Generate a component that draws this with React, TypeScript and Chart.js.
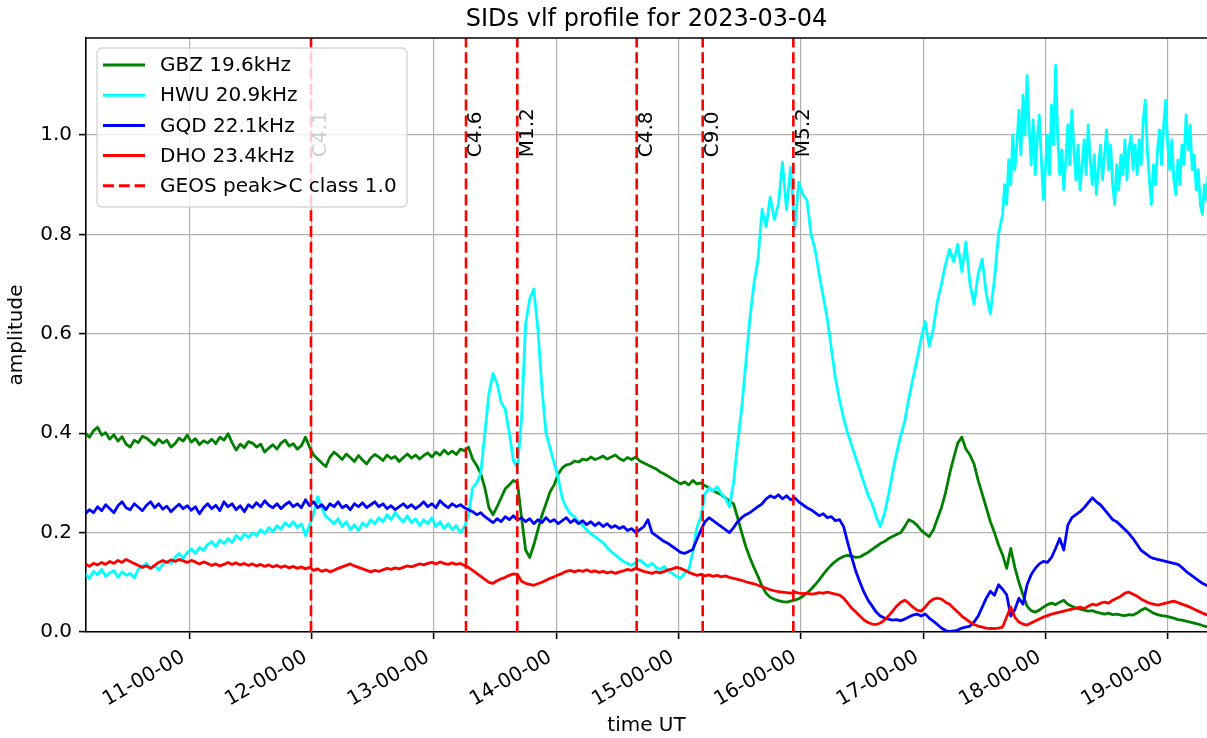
import React, { useEffect, useRef } from 'react';
import { Chart, registerables } from 'chart.js';

Chart.register(...registerables);

// ---- data ----
const START_HOUR = 10.15; // first sample, hours UT
const STEP_HOURS = 1 / 30; // 2-minute samples

const GBZ = [
  0.400, 0.392, 0.405, 0.412, 0.396, 0.401, 0.388, 0.397, 0.384, 0.393,
  0.378, 0.372, 0.386, 0.381, 0.394, 0.390, 0.383, 0.376, 0.388, 0.380,
  0.386, 0.372, 0.379, 0.390, 0.384, 0.396, 0.382, 0.389, 0.377, 0.385,
  0.380, 0.388, 0.379, 0.392, 0.386, 0.399, 0.381, 0.366, 0.378, 0.371,
  0.383, 0.380, 0.372, 0.378, 0.362, 0.370, 0.377, 0.368, 0.380, 0.386,
  0.374, 0.379, 0.368, 0.375, 0.392, 0.372, 0.356, 0.348, 0.340, 0.333,
  0.352, 0.362, 0.355, 0.347, 0.358, 0.351, 0.343, 0.355, 0.346, 0.338,
  0.350, 0.357, 0.352, 0.345, 0.356, 0.349, 0.353, 0.343, 0.351, 0.358,
  0.350, 0.356, 0.348, 0.355, 0.360, 0.352, 0.362, 0.356, 0.366, 0.358,
  0.364, 0.357, 0.368, 0.365, 0.372, 0.348, 0.335, 0.318, 0.290, 0.250,
  0.236, 0.252, 0.270, 0.288, 0.296, 0.305, 0.300, 0.230, 0.165, 0.150,
  0.175, 0.205, 0.235, 0.258, 0.282, 0.296, 0.318, 0.330, 0.336, 0.338,
  0.344, 0.342, 0.348, 0.346, 0.352, 0.347, 0.350, 0.354, 0.348, 0.352,
  0.356, 0.349, 0.345, 0.351, 0.347, 0.352, 0.344, 0.340, 0.336, 0.332,
  0.328, 0.322, 0.318, 0.313, 0.308, 0.303, 0.298, 0.302, 0.296, 0.305,
  0.298, 0.300, 0.294, 0.290, 0.284, 0.280, 0.276, 0.270, 0.264, 0.258,
  0.230, 0.200, 0.172, 0.150, 0.130, 0.112, 0.092, 0.078, 0.070, 0.066,
  0.063, 0.061, 0.060, 0.062, 0.064, 0.067, 0.072, 0.078, 0.086, 0.095,
  0.105, 0.116, 0.126, 0.135, 0.142, 0.148, 0.152, 0.154, 0.152, 0.150,
  0.151, 0.156, 0.160, 0.166, 0.172, 0.178, 0.182, 0.188, 0.192, 0.196,
  0.200, 0.212, 0.226, 0.222, 0.215, 0.205, 0.198, 0.192, 0.205, 0.228,
  0.250, 0.280, 0.318, 0.350, 0.380, 0.392, 0.368, 0.356, 0.338, 0.305,
  0.278, 0.250, 0.222, 0.200, 0.175, 0.155, 0.128, 0.168, 0.130, 0.100,
  0.075, 0.052, 0.043, 0.040, 0.044, 0.050, 0.055, 0.058, 0.055, 0.060,
  0.064, 0.056, 0.052, 0.048, 0.046, 0.044, 0.042, 0.043, 0.040, 0.038,
  0.036, 0.038, 0.035, 0.036, 0.034, 0.033, 0.035, 0.034, 0.038, 0.044,
  0.048, 0.043, 0.038, 0.035, 0.033, 0.032, 0.030, 0.028, 0.025, 0.024,
  0.022, 0.020, 0.018, 0.016, 0.013, 0.011, 0.010,
];

// HWU: 2-minute samples up to 17:37, then 1-minute samples from 17:39
const HWU = [
  0.118, 0.108, 0.122, 0.115, 0.126, 0.112, 0.119, 0.124, 0.110, 0.121,
  0.114, 0.118, 0.109, 0.126, 0.132, 0.138, 0.128, 0.134, 0.125, 0.136,
  0.142, 0.138, 0.150, 0.158, 0.148, 0.160, 0.167, 0.158, 0.170, 0.164,
  0.176, 0.182, 0.172, 0.185, 0.178, 0.188, 0.180, 0.194, 0.186, 0.197,
  0.190, 0.200, 0.194, 0.206, 0.198, 0.210, 0.202, 0.214, 0.207, 0.220,
  0.212, 0.222, 0.210, 0.218, 0.194, 0.215, 0.238, 0.272, 0.250, 0.232,
  0.226, 0.218, 0.228, 0.212, 0.222, 0.206, 0.216, 0.204, 0.220, 0.212,
  0.226, 0.218, 0.230, 0.222, 0.236, 0.226, 0.240, 0.230, 0.222, 0.234,
  0.220, 0.228, 0.214, 0.226, 0.218, 0.230, 0.212, 0.222, 0.208, 0.218,
  0.206, 0.214, 0.200, 0.212, 0.236, 0.290, 0.300, 0.320, 0.400, 0.480,
  0.520, 0.500, 0.462, 0.448, 0.400, 0.345, 0.330, 0.430, 0.620, 0.670,
  0.690, 0.610, 0.490, 0.400, 0.370, 0.340, 0.310, 0.268, 0.250, 0.238,
  0.232, 0.222, 0.215, 0.205, 0.198, 0.192, 0.186, 0.180, 0.170, 0.162,
  0.155, 0.148, 0.142, 0.138, 0.134, 0.140, 0.145, 0.138, 0.132, 0.138,
  0.130, 0.126, 0.132, 0.122, 0.118, 0.112, 0.108, 0.118, 0.125, 0.160,
  0.210, 0.232, 0.278, 0.290, 0.284, 0.292, 0.278, 0.270, 0.252, 0.300,
  0.380, 0.450, 0.540, 0.630, 0.700, 0.750, 0.850, 0.815, 0.875, 0.830,
  0.860, 0.945, 0.850, 0.935, 0.810, 0.905, 0.880, 0.870, 0.800, 0.770,
  0.720, 0.675, 0.630, 0.570, 0.510, 0.467, 0.430, 0.400, 0.375, 0.350,
  0.325, 0.300, 0.275, 0.258, 0.232, 0.212, 0.238, 0.275, 0.320, 0.360,
  0.395, 0.425, 0.470, 0.510, 0.548, 0.590, 0.625, 0.575, 0.610, 0.665,
  0.700, 0.740, 0.770, 0.745, 0.780, 0.725, 0.785, 0.700, 0.660, 0.720,
  0.750, 0.680, 0.640, 0.710, 0.800,
];

const HWU_LATE_START = 17.65;
const HWU_LATE_STEP = 1 / 60;
const HWU_LATE = [
  0.84, 0.90, 0.86, 0.95, 0.90, 1.00, 0.93, 0.98, 1.05, 0.96,
  1.08, 1.00, 1.12, 1.02, 0.94, 1.03, 0.92, 0.99, 1.04, 0.95,
  0.87, 0.93, 1.00, 0.92, 1.06, 0.98, 1.14, 1.00, 0.92, 0.97,
  0.89, 0.95, 1.02, 0.94, 1.05, 0.97, 0.91, 0.98, 0.89, 0.94,
  0.99, 0.92, 1.02, 0.95, 0.90, 0.96, 0.88, 0.93, 0.98, 0.91,
  0.96, 1.01, 0.93, 0.98, 0.90, 0.86, 0.94, 0.89, 0.96, 0.92,
  0.99, 0.91, 0.97, 1.00, 0.93, 0.98, 0.92, 0.99, 0.94, 1.03,
  1.07, 0.97, 0.91, 0.86, 0.94, 0.90, 0.97, 1.01, 0.94, 1.02,
  1.07, 0.98, 0.93, 0.99, 0.91, 0.88, 0.95, 0.90, 0.98, 0.94,
  1.04, 0.97, 1.02, 0.93, 0.96, 0.89, 0.93, 0.86, 0.84, 0.90,
  0.87, 0.93, 0.91,
];

const GQD = [
  0.238, 0.246, 0.240, 0.252, 0.244, 0.256, 0.248, 0.240, 0.254, 0.262,
  0.250, 0.246, 0.258, 0.251, 0.244, 0.255, 0.262, 0.250, 0.258, 0.247,
  0.253, 0.242, 0.250, 0.257, 0.248, 0.254, 0.245, 0.252, 0.238, 0.250,
  0.258, 0.248, 0.255, 0.244, 0.262, 0.252, 0.258, 0.246, 0.254, 0.242,
  0.256, 0.250, 0.260, 0.252, 0.264, 0.255, 0.250, 0.258, 0.248, 0.256,
  0.262, 0.252, 0.258, 0.250, 0.266, 0.254, 0.262, 0.250, 0.256, 0.246,
  0.258, 0.252, 0.262, 0.250, 0.255, 0.246, 0.258, 0.252, 0.260, 0.250,
  0.256, 0.262, 0.252, 0.258, 0.248, 0.254, 0.246, 0.252, 0.258, 0.250,
  0.256, 0.248, 0.254, 0.262, 0.252, 0.258, 0.250, 0.264, 0.256, 0.250,
  0.258, 0.252, 0.256, 0.250, 0.246, 0.242, 0.236, 0.240, 0.232, 0.226,
  0.220, 0.228, 0.222, 0.232, 0.226, 0.234, 0.225, 0.230, 0.222, 0.228,
  0.218, 0.226, 0.220, 0.230, 0.222, 0.226, 0.218, 0.224, 0.230, 0.220,
  0.226, 0.218, 0.224, 0.216, 0.222, 0.214, 0.220, 0.212, 0.218, 0.210,
  0.214, 0.208, 0.212, 0.204, 0.208, 0.200, 0.206, 0.212, 0.226, 0.200,
  0.194, 0.188, 0.182, 0.178, 0.172, 0.166, 0.160, 0.158, 0.162, 0.166,
  0.186, 0.205, 0.222, 0.230, 0.224, 0.218, 0.212, 0.206, 0.200, 0.210,
  0.222, 0.230, 0.236, 0.240, 0.246, 0.252, 0.258, 0.268, 0.274, 0.270,
  0.276, 0.268, 0.274, 0.266, 0.270, 0.262, 0.256, 0.250, 0.246, 0.240,
  0.234, 0.238, 0.230, 0.232, 0.224, 0.226, 0.212, 0.180, 0.150, 0.122,
  0.100, 0.080, 0.064, 0.052, 0.040, 0.032, 0.028, 0.026, 0.024, 0.025,
  0.023, 0.026, 0.030, 0.034, 0.036, 0.032, 0.036, 0.028, 0.022, 0.015,
  0.008, 0.003, 0.001, 0.002, 0.004, 0.008, 0.010, 0.012, 0.020, 0.032,
  0.050, 0.068, 0.082, 0.074, 0.095, 0.086, 0.075, 0.032, 0.045, 0.068,
  0.056, 0.095, 0.115, 0.128, 0.137, 0.142, 0.140, 0.150, 0.168, 0.188,
  0.165, 0.215, 0.230, 0.236, 0.242, 0.250, 0.260, 0.270, 0.262, 0.256,
  0.246, 0.236, 0.226, 0.222, 0.214, 0.206, 0.198, 0.188, 0.176, 0.164,
  0.158, 0.152, 0.148, 0.146, 0.144, 0.142, 0.140, 0.138, 0.136, 0.130,
  0.122, 0.116, 0.110, 0.104, 0.098, 0.094, 0.090,
];

const DHO = [
  0.137, 0.132, 0.138, 0.135, 0.140, 0.136, 0.142, 0.138, 0.144, 0.140,
  0.146, 0.142, 0.138, 0.134, 0.130, 0.133, 0.128, 0.134, 0.140, 0.144,
  0.140, 0.145, 0.142, 0.146, 0.143, 0.140, 0.144, 0.141, 0.137, 0.141,
  0.138, 0.134, 0.137, 0.133, 0.136, 0.140, 0.136, 0.139, 0.135, 0.138,
  0.134, 0.137, 0.133, 0.136, 0.132, 0.135, 0.131, 0.134, 0.130, 0.133,
  0.129, 0.132, 0.128, 0.131, 0.127, 0.130, 0.124, 0.127, 0.122, 0.125,
  0.121, 0.124, 0.128, 0.131, 0.134, 0.137, 0.133, 0.130, 0.127, 0.124,
  0.121, 0.124, 0.122, 0.125, 0.128, 0.126, 0.129, 0.127, 0.130, 0.133,
  0.131, 0.134, 0.137, 0.135, 0.138, 0.140, 0.137, 0.141, 0.138, 0.136,
  0.139, 0.136, 0.138, 0.134, 0.130, 0.124, 0.118, 0.112, 0.106, 0.100,
  0.098, 0.103, 0.107, 0.110, 0.114, 0.117, 0.116, 0.102, 0.098, 0.096,
  0.094, 0.097, 0.100, 0.104, 0.108, 0.111, 0.115, 0.118, 0.122, 0.124,
  0.121, 0.124, 0.122, 0.125, 0.121, 0.123, 0.120, 0.122, 0.119, 0.121,
  0.118, 0.121, 0.123, 0.126, 0.124, 0.128, 0.125, 0.122, 0.120, 0.118,
  0.121, 0.119, 0.122, 0.125, 0.127, 0.130, 0.128, 0.124, 0.120, 0.117,
  0.114, 0.116, 0.113, 0.115, 0.112, 0.114, 0.111, 0.113, 0.110, 0.108,
  0.106, 0.104, 0.101, 0.099, 0.097, 0.094, 0.091, 0.088, 0.085, 0.083,
  0.081, 0.080, 0.079, 0.078, 0.080, 0.078, 0.077, 0.078, 0.076, 0.077,
  0.079, 0.078, 0.080, 0.078, 0.076, 0.074, 0.068, 0.058, 0.048, 0.040,
  0.032, 0.024, 0.019, 0.016, 0.015, 0.018, 0.024, 0.032, 0.042, 0.052,
  0.060, 0.064, 0.058, 0.050, 0.044, 0.042, 0.050, 0.060, 0.066, 0.068,
  0.066, 0.060, 0.056, 0.048, 0.040, 0.032, 0.026, 0.020, 0.015, 0.012,
  0.010, 0.008, 0.007, 0.007, 0.008, 0.010, 0.030, 0.050, 0.030, 0.020,
  0.016, 0.014, 0.018, 0.022, 0.026, 0.030, 0.033, 0.036, 0.038, 0.040,
  0.042, 0.044, 0.046, 0.048, 0.050, 0.047, 0.052, 0.056, 0.054, 0.058,
  0.060, 0.058, 0.064, 0.068, 0.072, 0.078, 0.080, 0.076, 0.072, 0.066,
  0.062, 0.058, 0.056, 0.054, 0.056, 0.058, 0.060, 0.062, 0.059, 0.056,
  0.053, 0.050, 0.046, 0.042, 0.038, 0.035, 0.033,
];

const SERIES_LABELS = ['GBZ 19.6kHz', 'HWU 20.9kHz', 'GQD 22.1kHz', 'DHO 23.4kHz'];
const SERIES_COLORS = ['#008000', '#00ffff', '#0000ff', '#ff0000'];
const FLARE_LEGEND = 'GEOS peak>C class 1.0';
const FLARE_TIMES = [11.995, 13.2625, 13.682, 14.658, 15.198, 15.939];
const FLARE_LABELS = ['C4.1', 'C4.6', 'M1.2', 'C4.8', 'C9.0', 'M5.2'];
const X_TICKS = [11, 12, 13, 14, 15, 16, 17, 18, 19];
const Y_TICKS = [0, 0.2, 0.4, 0.6, 0.8, 1.0];

const X_MIN = 10.1554;
const X_MAX = 19.3213;
const Y_MAX = 1.195;
const FLARE_LABEL_Y = 0.955;

const FONT = 'DejaVu Sans';

const TIMES = GBZ.map((_, i) => START_HOUR + i * STEP_HOURS);

const overlayPlugin = {
  id: 'overlay',
  afterDatasetsDraw(chart: any) {
    const { ctx, scales } = chart;
    ctx.save();
    ctx.font = `20px "${FONT}"`;
    ctx.fillStyle = '#000';
    ctx.textAlign = 'left';
    ctx.textBaseline = 'top';
    FLARE_TIMES.forEach((t, k) => {
      const x = scales.x.getPixelForValue(t);
      const y = scales.y.getPixelForValue(FLARE_LABEL_Y);
      ctx.save();
      ctx.translate(x, y);
      ctx.rotate(-Math.PI / 2);
      ctx.fillText(FLARE_LABELS[k], 0, 0);
      ctx.restore();
    });
    ctx.restore();
  },
  afterDraw(chart: any) {
    const { ctx, chartArea } = chart;
    ctx.save();
    // top spine
    ctx.strokeStyle = '#000';
    ctx.lineWidth = 1.6;
    ctx.beginPath();
    ctx.moveTo(chartArea.left - 0.8, chartArea.top);
    ctx.lineTo(chartArea.right, chartArea.top);
    ctx.stroke();

    // legend
    const bx = chartArea.left + 11;
    const by = chartArea.top + 10;
    const bw = 310;
    const bh = 159;
    ctx.beginPath();
    ctx.roundRect(bx, by, bw, bh, 5);
    ctx.fillStyle = 'rgba(255,255,255,0.8)';
    ctx.fill();
    ctx.strokeStyle = 'rgba(204,204,204,0.8)';
    ctx.lineWidth = 1.4;
    ctx.stroke();

    const entries = SERIES_LABELS.map((l, i) => ({ label: l, color: SERIES_COLORS[i], dash: [] as number[] }));
    entries.push({ label: FLARE_LEGEND, color: '#ff0000', dash: [11, 4.8] });
    ctx.font = `20px "${FONT}"`;
    ctx.textAlign = 'left';
    ctx.textBaseline = 'middle';
    entries.forEach((e, k) => {
      const cy = by + 17 + k * 30.2;
      ctx.beginPath();
      ctx.setLineDash(e.dash);
      ctx.strokeStyle = e.color;
      ctx.lineWidth = 3;
      ctx.moveTo(bx + 6, cy);
      ctx.lineTo(bx + 48, cy);
      ctx.stroke();
      ctx.setLineDash([]);
      ctx.fillStyle = '#000';
      ctx.fillText(e.label, bx + 63, cy + 1);
    });
    ctx.restore();
  },
};

export default function App() {
  const ref = useRef<HTMLCanvasElement | null>(null);

  useEffect(() => {
    if (!ref.current) return;
    const hwuPoints = [
      ...HWU.map((v, i) => ({ x: TIMES[i], y: v })),
      ...HWU_LATE.map((v, k) => ({ x: HWU_LATE_START + k * HWU_LATE_STEP, y: v })),
    ];
    const seriesPoints = [
      GBZ.map((v, i) => ({ x: TIMES[i], y: v })),
      hwuPoints,
      GQD.map((v, i) => ({ x: TIMES[i], y: v })),
      DHO.map((v, i) => ({ x: TIMES[i], y: v })),
    ];
    const lineDatasets = seriesPoints.map((pts, s) => ({
      label: SERIES_LABELS[s],
      data: pts,
      borderColor: SERIES_COLORS[s],
      backgroundColor: SERIES_COLORS[s],
      borderWidth: 2.8,
      pointRadius: 0,
      tension: 0,
      borderJoinStyle: 'round' as const,
      order: 4 - s,
    }));
    const flareDatasets = FLARE_TIMES.map((t, k) => ({
      label: FLARE_LABELS[k],
      data: [{ x: t, y: 0 }, { x: t, y: Y_MAX }],
      borderColor: '#ff0000',
      borderWidth: 2.6,
      borderDash: [11, 4.8],
      pointRadius: 0,
      order: 0,
    }));

    const tickFont = { family: FONT, size: 20 };
    const chart = new Chart(ref.current, {
      type: 'line',
      data: { datasets: [...lineDatasets, ...flareDatasets] as any },
      options: {
        animation: false,
        responsive: false,
        devicePixelRatio: 1,
        layout: { padding: 0 },
        plugins: {
          legend: { display: false },
          tooltip: { enabled: false },
          title: {
            display: true,
            text: 'SIDs vlf profile for 2023-03-04',
            color: '#000',
            font: { family: FONT, size: 24, weight: 'normal' },
            padding: { top: 5, bottom: 4.2 },
            fullSize: false,
          },
        },
        scales: {
          x: {
            type: 'linear',
            min: X_MIN,
            max: X_MAX,
            afterBuildTicks: (s: any) => {
              s.ticks = X_TICKS.map((v) => ({ value: v }));
            },
            afterFit: (s: any) => {
              s.height = 106;
            },
            ticks: {
              autoSkip: false,
              minRotation: 30,
              maxRotation: 30,
              padding: 6.6,
              labelOffset: -6,
              color: '#000',
              font: tickFont,
              callback: (v: any) => `${String(v).padStart(2, '0')}-00-00`,
            },
            grid: { color: '#b0b0b0', lineWidth: 1.2, tickLength: 7, tickColor: '#000', tickWidth: 1.6 },
            border: { color: '#000', width: 1.6 },
            title: { display: true, text: 'time UT', color: '#000', font: tickFont, padding: { top: 0, bottom: 0 } },
          },
          y: {
            type: 'linear',
            min: 0,
            max: Y_MAX,
            afterBuildTicks: (s: any) => {
              s.ticks = Y_TICKS.map((v) => ({ value: v }));
            },
            afterFit: (s: any) => {
              s.width = 86;
            },
            ticks: {
              padding: 7,
              color: '#000',
              font: tickFont,
              callback: (v: any) => Number(v).toFixed(1),
            },
            grid: { color: '#b0b0b0', lineWidth: 1.2, tickLength: 7, tickColor: '#000', tickWidth: 1.6 },
            border: { color: '#000', width: 1.6 },
            title: { display: true, text: 'amplitude', color: '#000', font: tickFont, padding: { top: 5, bottom: 0 } },
          },
        },
      },
      plugins: [overlayPlugin],
    });
    return () => chart.destroy();
  }, []);

  return (
    <div style={{ position: 'absolute', left: 0, top: 0, width: 1207, height: 738, background: '#fff' }}>
      <canvas ref={ref} width={1207} height={738} style={{ display: 'block', width: 1207, height: 738 }} />
    </div>
  );
}
